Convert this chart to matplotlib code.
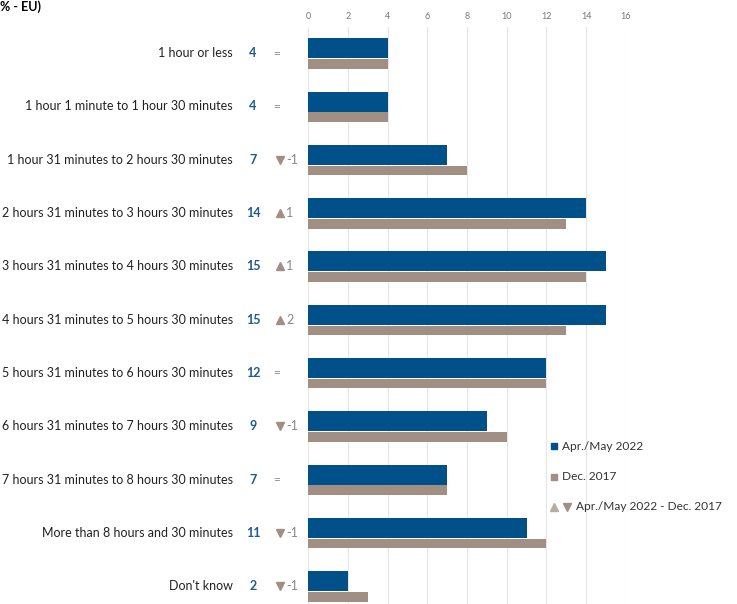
import numpy as np
import matplotlib
matplotlib.use('Agg')
from matplotlib import pyplot as plt

plt.rcParams['font.family'] = ['Lato', 'DejaVu Sans']

# data
categories = ['1 hour or less', '1 hour 1 minute to 1 hour 30 minutes',
              '1 hour 31 minutes to 2 hours 30 minutes', '2 hours 31 minutes to 3 hours 30 minutes',
              '3 hours 31 minutes to 4 hours 30 minutes', '4 hours 31 minutes to 5 hours 30 minutes',
              '5 hours 31 minutes to 6 hours 30 minutes', '6 hours 31 minutes to 7 hours 30 minutes',
              '7 hours 31 minutes to 8 hours 30 minutes', 'More than 8 hours and 30 minutes',
              "Don't know"]
apr_may_2022 = [4, 4, 7, 14, 15, 15, 12, 9, 7, 11, 2]
dec_2017 = [4, 4, 8, 13, 14, 13, 12, 10, 7, 12, 3]
x_ticks = [0, 2, 4, 6, 8, 10, 12, 14, 16]

blue = '#00518a'
taupe = '#a08f82'
val_blue = '#1f5b8f'

W, H = 737, 604
PT = 72 / 100  # points per pixel
fig = plt.figure(figsize=(W / 100, H / 100), dpi=100)
row_px = 53.3
ax_top = 26.5
ax_bot = ax_top + row_px * len(categories)
ax = fig.add_axes([308 / W, 1 - ax_bot / H, (626 - 308) / W, (ax_bot - ax_top) / H])

y = np.arange(len(categories))
ax.barh(y - 0.28, apr_may_2022, height=0.375, align='edge', color=blue, zorder=3)
ax.barh(y + 0.11, dec_2017, height=0.18, align='edge', color=taupe, zorder=3)

ax.set_xlim(0, 16)
ax.set_ylim(len(categories) - 0.5, -0.5)
ax.set_xticks(x_ticks)
ax.xaxis.tick_top()
ax.tick_params(axis='x', length=0, labelsize=6.5, labelcolor='#777777', pad=4)
ax.set_yticks([])
ax.grid(axis='x', color='#e6e6e6', lw=0.8, zorder=0)
for s in ax.spines.values():
    s.set_visible(False)

# labels, values and changes
for i, (cat, a, d) in enumerate(zip(categories, apr_may_2022, dec_2017)):
    yy = i
    ax.annotate(cat, (0, yy), xycoords=('axes fraction', 'data'), xytext=(-75 * PT, 0),
                textcoords='offset points', ha='right', va='center', fontsize=9, color='#222222')
    ax.annotate(str(a), (0, yy), xycoords=('axes fraction', 'data'), xytext=(-55 * PT, 0),
                textcoords='offset points', ha='center', va='center', fontsize=9,
                fontweight='bold', color=val_blue)
    diff = a - d
    if diff == 0:
        ax.annotate('=', (0, yy), xycoords=('axes fraction', 'data'), xytext=(-31 * PT, 0),
                    textcoords='offset points', ha='center', va='center', fontsize=8.5, color='#888888')
    else:
        mk = '^' if diff > 0 else 'v'
        ax.plot([-28 / 318], [yy], marker=mk, ms=5.5, color=taupe, transform=ax.get_yaxis_transform(),
                clip_on=False)
        ax.annotate(str(diff), (0, yy), xycoords=('axes fraction', 'data'), xytext=(-22 * PT, 0),
                    textcoords='offset points', ha='left', va='center',
                    fontsize=9, color='#888888')

# legend
def fx(px):
    return px / W

def fy(py):
    return 1 - py / H

fig.add_artist(plt.Line2D([fx(554)], [fy(446)], marker='s', ms=5, color=blue, lw=0))
fig.text(fx(562), fy(446), 'Apr./May 2022', fontsize=8.6, va='center', color='#333333')
fig.add_artist(plt.Line2D([fx(554)], [fy(477)], marker='s', ms=5, color=taupe, lw=0))
fig.text(fx(562), fy(477), 'Dec. 2017', fontsize=8.6, va='center', color='#333333')
fig.add_artist(plt.Line2D([fx(554)], [fy(507)], marker='^', ms=5.5, color='#b5aca4', lw=0))
fig.add_artist(plt.Line2D([fx(567)], [fy(507)], marker='v', ms=5.5, color=taupe, lw=0))
fig.text(fx(576), fy(507), 'Apr./May 2022 - Dec. 2017', fontsize=8.6, va='center', color='#333333')

fig.text(fx(0), fy(7), '% - EU)', fontsize=9, fontweight='bold', va='center', ha='left')

fig.savefig('out.png', dpi=100)
